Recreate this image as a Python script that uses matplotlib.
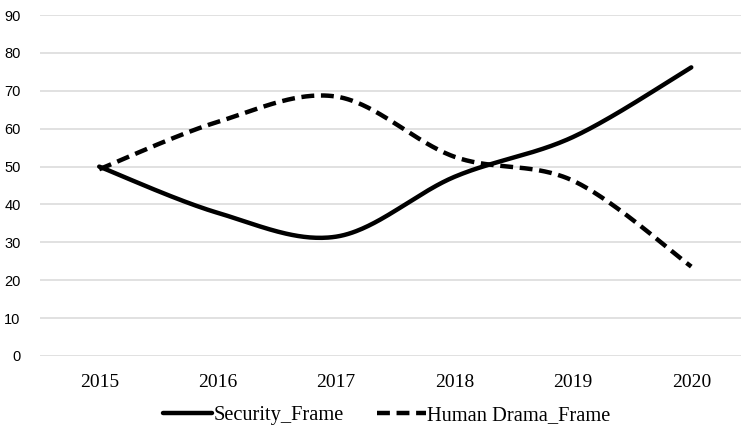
import matplotlib
matplotlib.use("Agg")
import matplotlib.pyplot as plt
import numpy as np

years = ["2015", "2016", "2017", "2018", "2019", "2020"]
security = [50.0, 37.8, 31.5, 47.3, 57.8, 76.2]
human_drama = [49.3, 61.8, 68.5, 52.6, 46.3, 23.6]


def excel_smooth(xs, ys, n=60):
    """Excel-style smoothed line: cubic Bezier with Catmull-Rom controls."""
    xs = np.asarray(xs, float)
    ys = np.asarray(ys, float)
    px, py = [], []
    m = len(xs)
    for i in range(m - 1):
        x0, y0 = xs[i], ys[i]
        x3, y3 = xs[i + 1], ys[i + 1]
        xp, yp = (xs[i - 1], ys[i - 1]) if i > 0 else (x0, y0)
        xn, yn = (xs[i + 2], ys[i + 2]) if i + 2 < m else (x3, y3)
        x1 = x0 + (x3 - xp) / 6.0
        y1 = y0 + (y3 - yp) / 6.0
        x2 = x3 - (xn - x0) / 6.0
        y2 = y3 - (yn - y0) / 6.0
        t = np.linspace(0, 1, n)
        bx = (1 - t) ** 3 * x0 + 3 * (1 - t) ** 2 * t * x1 + 3 * (1 - t) * t ** 2 * x2 + t ** 3 * x3
        by = (1 - t) ** 3 * y0 + 3 * (1 - t) ** 2 * t * y1 + 3 * (1 - t) * t ** 2 * y2 + t ** 3 * y3
        if i > 0:
            bx, by = bx[1:], by[1:]
        px.extend(bx)
        py.extend(by)
    return np.array(px), np.array(py)


fig = plt.figure(figsize=(7.41, 4.32), dpi=100)
ax = fig.add_axes([0.054, 0.176, 0.946, 0.789])

x = np.arange(len(years))
sx, sy = excel_smooth(x, security)
hx, hy = excel_smooth(x, human_drama)

ax.plot(sx, sy, color="black", lw=3.2, solid_capstyle="round", label="Security_Frame", zorder=3)
ax.plot(hx, hy, color="black", lw=3.2, dashes=(2.9, 1.5), dash_capstyle="butt",
        label="Human Drama_Frame", zorder=3)

ax.set_ylim(0, 90)
ax.set_yticks(range(0, 91, 10))
ax.set_xlim(-0.5, 5.42)
ax.set_xticks(x)
ax.set_xticklabels(years, fontfamily="Liberation Serif", fontsize=14)
for lab in ax.get_yticklabels():
    lab.set_fontfamily("Liberation Sans")
    lab.set_fontsize(10.5)
ax.tick_params(axis="both", length=0)
ax.tick_params(axis="x", pad=13)
ax.tick_params(axis="y", pad=14)
ax.grid(axis="y", color="#d9d9d9", lw=1.1)
ax.set_axisbelow(True)
for s in ax.spines.values():
    s.set_visible(False)

leg = fig.legend(loc="center", bbox_to_anchor=(0.522, 0.038), ncol=2, frameon=False,
                 prop={"family": "Liberation Serif", "size": 14.7}, handlelength=2.4,
                 handletextpad=0.08, columnspacing=1.6)

fig.savefig("out.png", dpi=100)
